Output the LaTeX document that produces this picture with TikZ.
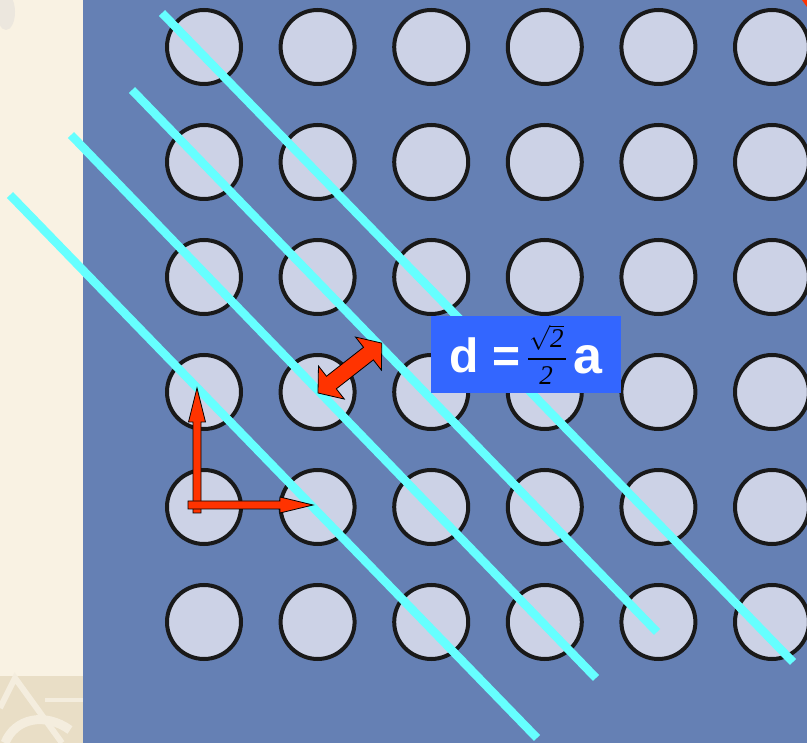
\documentclass[tikz,border=0pt]{standalone}
\usepackage{fontspec}
\newfontfamily\lsans{Liberation Sans}
\newfontfamily\lserif{Liberation Serif}
\definecolor{cream}{RGB}{249,242,227}
\definecolor{creamdark}{RGB}{233,222,198}
\definecolor{creamlight}{RGB}{244,237,222}
\definecolor{creamgray}{RGB}{236,231,222}
\definecolor{bgblue}{RGB}{101,128,180}
\definecolor{atomfill}{RGB}{204,210,230}
\definecolor{cyanl}{RGB}{102,255,255}
\definecolor{redv}{RGB}{255,51,0}
\definecolor{boxblue}{RGB}{51,102,255}
\tikzset{
  atom/.style={circle, draw=black!90, line width=4pt, fill=atomfill, minimum size=74pt, inner sep=0pt},
  plane/.style={draw=cyanl, line width=8.5pt},
  vec/.style={fill=redv, draw=black, line width=0.8pt, line join=miter},
  bigtxt/.style={text=white, inner sep=0pt, anchor=base},
  fractxt/.style={text=black, inner sep=0pt, anchor=base, font=\lserif\itshape\fontsize{27}{27}\selectfont}
}
\begin{document}
\begin{tikzpicture}[x=1pt,y=-1pt]
\useasboundingbox (0,0) rectangle (807,743);
% backgrounds
\fill[cream] (0,0) rectangle (83,743);
\fill[creamgray] (6,12) ellipse (9 and 18);
\fill[creamdark] (0,676) rectangle (83,743);
\draw[creamlight, line width=6pt] (0,708) -- (15,678) -- (62,743);
\draw[creamlight, line width=9pt] (5,743) .. controls (15,718) and (45,712) .. (70,730);
\draw[creamlight, line width=4pt] (45,700) -- (83,700);
\fill[bgblue] (83,0) rectangle (807,743);
\fill[redv] (802,0) -- (807,0) -- (807,7) -- cycle;
% lattice
\foreach \i in {0,...,5} {
  \foreach \j in {0,...,5} {
    \node[atom] (c\i\j) at ({204+113.6*\i},{47+115*\j}) {};
  }
}
% lattice planes
\draw[plane] (162,13) -- (793,662);
\draw[plane] (132,90) -- (657,632);
\draw[plane] (71,135) -- (596,678);
\draw[plane] (10,195) -- (537,738);
% basis vectors
\draw[vec] (193,513) -- (193,422) -- (188.5,422) -- (197,388) -- (205.5,422) -- (201,422) -- (201,513) -- cycle;
\draw[vec] (188,501) -- (280,501) -- (280,497) -- (313,505) -- (280,513) -- (280,509) -- (188,509) -- cycle;
% interplanar distance arrow
\begin{scope}[shift={(318,393)}, rotate=38]
\draw[vec] (0,0) -- (17,-21) -- (17,-8) -- (64,-8) -- (64,-21) -- (81,0) -- (64,21) -- (64,8) -- (17,8) -- (17,21) -- cycle;
\end{scope}
% label box
\node[fill=boxblue, minimum width=190pt, minimum height=77pt, inner sep=0pt] (box) at (526,354.5) {};
\node[bigtxt, font=\lsans\bfseries\fontsize{48}{48}\selectfont] (dlab) at (464.5,373) {d};
\node[bigtxt, font=\lsans\bfseries\fontsize{48}{48}\selectfont] (eqlab) at (507,373) {=};
\node[bigtxt, font=\lsans\bfseries\fontsize{52}{52}\selectfont] (alab) at (587.5,374) {a};
\node[fractxt] (num) at (546.5,348) {$\sqrt{\mbox{2}}$};
\draw[line width=1.2pt] (528,359) -- (566,359);
\node[fractxt] (den) at (546,385) {2};
\end{tikzpicture}
\end{document}
